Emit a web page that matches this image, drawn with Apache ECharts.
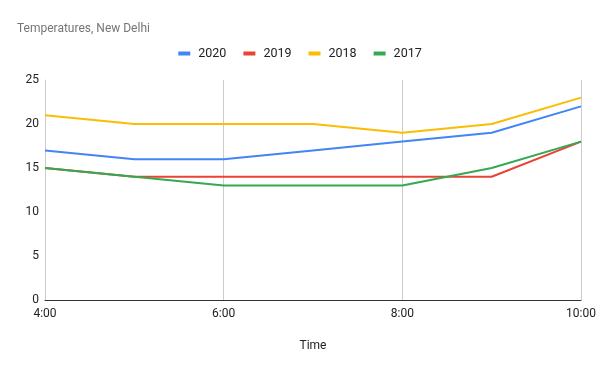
<!DOCTYPE html>
<html>
<head>
<meta charset="utf-8">
<script src="https://cdn.jsdelivr.net/npm/echarts@6/dist/echarts.min.js"></script>
<style>
html,body{margin:0;padding:0;background:#fff;}
#chart{width:600px;height:371px;}
</style>
</head>
<body>
<div id="chart"></div>
<script>
const categories = ['4:00','5:00','6:00','7:00','8:00','9:00','10:00'];
const s2020 = [17, 16, 16, 17, 18, 19, 22];
const s2019 = [15, 14, 14, 14, 14, 14, 18];
const s2018 = [21, 20, 20, 20, 19, 20, 23];
const s2017 = [15, 14, 13, 13, 13, 15, 18];
const seriesNames = ['2020','2019','2018','2017'];
const seriesData = [s2020, s2019, s2018, s2017];
const colors = ['#4285F4','#EA4335','#FBBC04','#34A853'];

const chart = echarts.init(document.getElementById('chart'), null, {renderer:'canvas'});
chart.setOption({
  animation:false,
  color: colors,
  textStyle:{fontFamily:'Roboto, Arial, sans-serif'},
  title:{
    text:'Temperatures, New Delhi',
    left:12, top:18,
    textStyle:{fontSize:12, fontWeight:'normal', color:'#757575', fontFamily:'Roboto, Arial, sans-serif'}
  },
  legend:{
    top:42, left:'center',
    itemWidth:12, itemHeight:4, itemGap:17,
    icon:'rect',
    textStyle:{fontSize:12.5, color:'#222222', padding:[0,0,0,3]},
    data: seriesNames
  },
  grid:{left:45, right:19, top:80, bottom:71, containLabel:false},
  xAxis:{
    type:'category',
    data: categories,
    boundaryGap:false,
    name:'Time',
    nameLocation:'middle',
    nameGap:40,
    nameTextStyle:{fontSize:12, color:'#222222'},
    axisLine:{show:true, lineStyle:{color:'#333333', width:1}},
    axisTick:{show:false},
    axisLabel:{interval:1, color:'#222222', fontSize:12, margin:8},
    splitLine:{show:true, interval:1, lineStyle:{color:'#cccccc', width:1}}
  },
  yAxis:{
    type:'value',
    min:0, max:25, interval:5,
    axisLine:{show:true, lineStyle:{color:'#cccccc', width:1}},
    axisTick:{show:false},
    axisLabel:{color:'#222222', fontSize:12, margin:6},
    splitLine:{show:false}
  },
  series: seriesData.map((d,i)=>({
    name: seriesNames[i],
    type:'line',
    data:d,
    symbol:'none',
    lineStyle:{width:2, color:colors[i]},
    itemStyle:{color:colors[i]}
  }))
});
</script>
</body>
</html>
